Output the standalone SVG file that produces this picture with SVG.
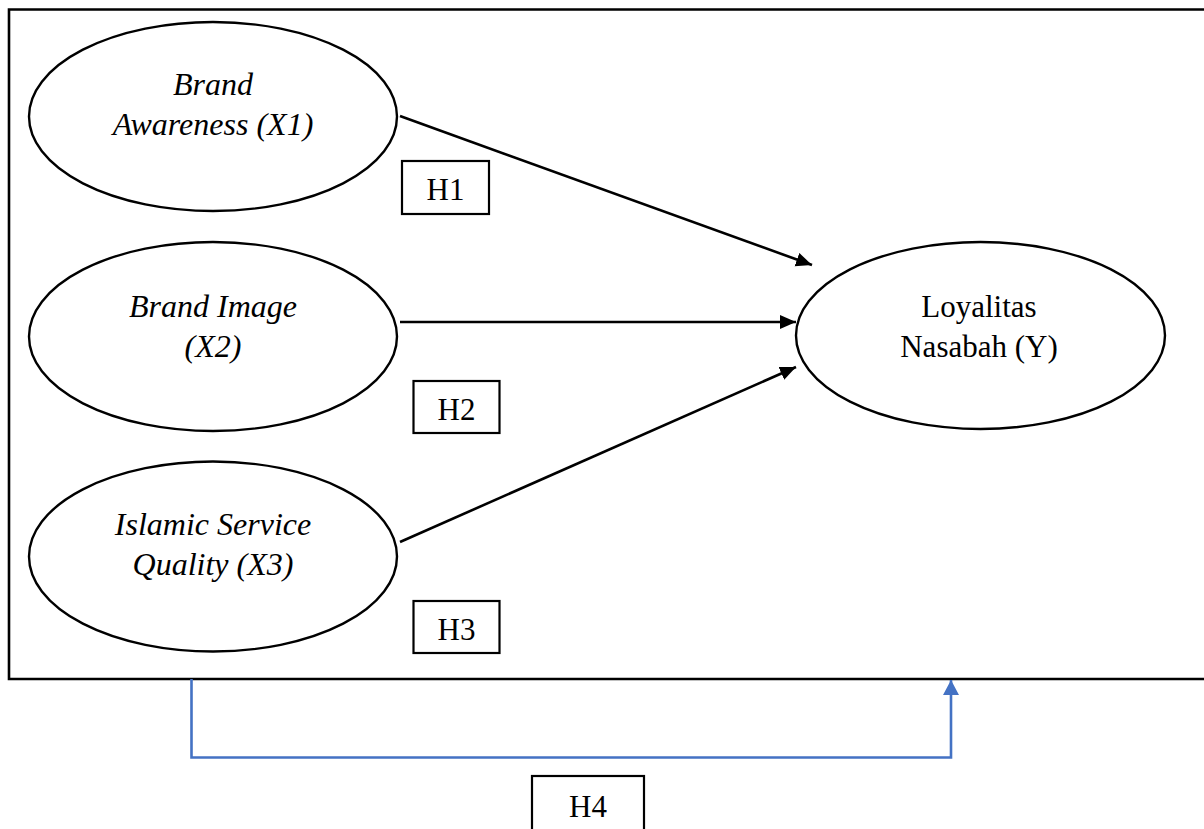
<svg xmlns="http://www.w3.org/2000/svg" width="1204" height="829" viewBox="0 0 1204 829">
  <style>
    .node ellipse { fill: #fff; stroke: #000; stroke-width: 2.4; }
    .lbl { font-family: "Liberation Serif", "Times New Roman", serif; font-size: 31px; fill: #000; text-anchor: middle; }
    .it { font-style: italic; font-size: 32px; }
    .hbox rect { fill: #fff; stroke: #000; stroke-width: 2.2; }
    .edge { stroke: #000; stroke-width: 2.6; fill: none; }
    .edge-blue { stroke: #4472C4; stroke-width: 2.6; fill: none; }
  </style>
  <defs>
    <marker id="arrow" markerUnits="userSpaceOnUse" markerWidth="17" markerHeight="15" refX="16" refY="7" orient="auto">
      <path d="M0,0 L16,7 L0,14 z" fill="#000"/>
    </marker>
    <marker id="arrow-blue" markerUnits="userSpaceOnUse" markerWidth="16" markerHeight="17" refX="15" refY="8" orient="auto">
      <path d="M0,0 L15,8 L0,16 z" fill="#4472C4"/>
    </marker>
  </defs>

  <rect width="1204" height="829" fill="#fff"/>

  <!-- outer frame (open on the right) -->
  <path id="frame" d="M1204,9.5 H9 V679 H1204" fill="none" stroke="#000" stroke-width="2.6"/>

  <!-- connectors -->
  <g id="connectors">
    <line class="edge" x1="400" y1="116" x2="812" y2="265" marker-end="url(#arrow)"/>
    <line class="edge" x1="400" y1="322" x2="796" y2="322" marker-end="url(#arrow)"/>
    <line class="edge" x1="400" y1="542" x2="796" y2="367" marker-end="url(#arrow)"/>
    <path class="edge-blue" d="M191.5,679 V757.5 H951 V680" marker-end="url(#arrow-blue)"/>
  </g>

  <!-- latent variables -->
  <g id="x1" class="node">
    <ellipse cx="213" cy="116.5" rx="184" ry="94.5"/>
    <text class="lbl it" x="213" y="95">Brand</text>
    <text class="lbl it" x="213" y="135">Awareness (X1)</text>
  </g>
  <g id="x2" class="node">
    <ellipse cx="213" cy="336.5" rx="184" ry="94.5"/>
    <text class="lbl it" x="213" y="317">Brand Image</text>
    <text class="lbl it" x="213" y="357">(X2)</text>
  </g>
  <g id="x3" class="node">
    <ellipse cx="213" cy="556.5" rx="184" ry="95"/>
    <text class="lbl it" x="213" y="535">Islamic Service</text>
    <text class="lbl it" x="213" y="575">Quality (X3)</text>
  </g>
  <g id="y" class="node">
    <ellipse cx="980.5" cy="335.5" rx="184.5" ry="93.5"/>
    <text class="lbl" x="979" y="317">Loyalitas</text>
    <text class="lbl" x="979" y="357">Nasabah (Y)</text>
  </g>

  <!-- hypothesis labels -->
  <g id="h1" class="hbox">
    <rect x="402" y="161" width="87" height="53"/>
    <text class="lbl" x="445.5" y="200">H1</text>
  </g>
  <g id="h2" class="hbox">
    <rect x="413.5" y="381" width="86" height="52"/>
    <text class="lbl" x="456.5" y="420">H2</text>
  </g>
  <g id="h3" class="hbox">
    <rect x="413.5" y="601" width="86" height="52"/>
    <text class="lbl" x="456.5" y="640">H3</text>
  </g>
  <g id="h4" class="hbox">
    <rect x="532" y="776" width="112" height="60"/>
    <text class="lbl" x="588" y="817">H4</text>
  </g>
</svg>
